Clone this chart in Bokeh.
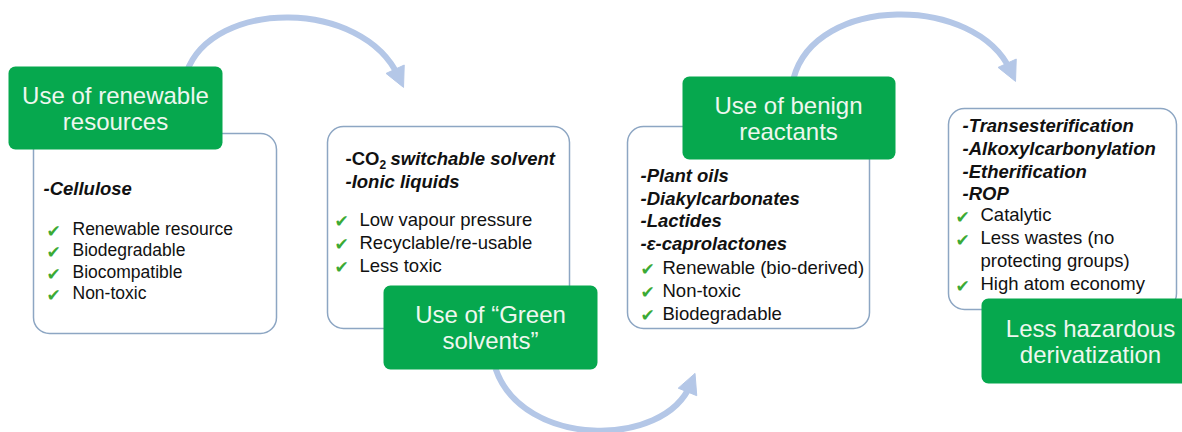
from bokeh.plotting import figure
from bokeh.models import Range1d, Arrow, NormalHead
from bokeh.core.properties import value
from bokeh.embed import file_html
from bokeh.resources import INLINE
import numpy as np

# ---- content ----
titles = ["Use of renewable\nresources", "Use of \u201cGreen\nsolvents\u201d",
          "Use of benign\nreactants", "Less hazardous\nderivatization"]
box1_heads = ["-Cellulose"]
box1_checks = ["Renewable resource", "Biodegradable", "Biocompatible", "Non-toxic"]
box2_heads = ["-Ionic liquids"]
box2_checks = ["Low vapour pressure", "Recyclable/re-usable", "Less toxic"]
box3_heads = ["-Plant oils", "-Diakylcarbonates", "-Lactides", "-\u03b5-caprolactones"]
box3_checks = ["Renewable (bio-derived)", "Non-toxic", "Biodegradable"]
box4_heads = ["-Transesterification", "-Alkoxylcarbonylation", "-Etherification", "-ROP"]
box4_checks = ["Catalytic", "Less wastes (no", "protecting groups)", "High atom economy"]
box4_has_check = [True, True, False, True]

GREEN = "#06A84E"
TITLE_TXT = "#EEF7EF"
OUTLINE = "#8DA6C3"
ARROW = "#B4C7E7"
CHECK = "#3BAA35"
FONT = value("Liberation Sans")

W, H = 1182, 432
p = figure(width=W, height=H, output_backend="svg", toolbar_location=None,
           x_range=Range1d(0, W), y_range=Range1d(H, 0), min_border=0)
p.axis.visible = False
p.grid.visible = False
p.outline_line_color = None
p.background_fill_color = "white"
p.border_fill_color = "white"

# ---- curved arrows ----
def curved_arrow(P0, C0, C1, P3, head_len=12):
    p.bezier(x0=[P0[0]], y0=[P0[1]], x1=[P3[0]], y1=[P3[1]],
             cx0=[C0[0]], cy0=[C0[1]], cx1=[C1[0]], cy1=[C1[1]],
             line_color=ARROW, line_width=6)
    d = np.array(P3, float) - np.array(C1, float)
    d /= np.linalg.norm(d)
    tip = np.array(P3, float) + head_len * d
    start = np.array(P3, float) - 2 * d
    p.add_layout(Arrow(end=NormalHead(size=20, fill_color=ARROW, line_color=ARROW, line_width=1),
                       x_start=start[0], y_start=start[1], x_end=tip[0], y_end=tip[1],
                       line_color=ARROW, line_width=6))

curved_arrow((186, 72), (212, -2), (362, -2), (398, 76))
curved_arrow((495, 368), (522, 448), (664, 448), (690, 384))
curved_arrow((793, 78), (815, -6), (975, -6), (1010, 70))

# ---- outline boxes ----
ob_l = [33, 327, 627, 948]
ob_r = [276, 569, 869, 1176]
ob_t = [133, 126, 126, 108]
ob_b = [333, 328, 328, 309]
p.quad(left=ob_l, right=ob_r, top=ob_t, bottom=ob_b, fill_color="white",
       line_color=OUTLINE, line_width=1.5, border_radius=16)

# ---- text helpers ----
def txt(x, y, s, size, style="normal", color="#111111", align="left", font=FONT):
    p.text(x=[x], y=[y], text=[s], text_font=font, text_font_size=f"{size}px",
           text_font_style=style, text_color=color, text_align=align,
           text_baseline="middle")

def check(x, y):
    p.text(x=[x], y=[y], text=["\u2714"], text_font=value("DejaVu Sans"),
           text_font_size="17px", text_color=CHECK, text_align="center",
           text_baseline="middle")

# box 1
for i, s in enumerate(box1_heads):
    txt(43, 188, s, 18.5, "bold italic")
for i, s in enumerate(box1_checks):
    y = 228 + 21.6 * i
    check(53, y + 2)
    txt(72, y, s, 17.5)

# box 2
txt(345, 158, "-CO", 18.5, "bold")
txt(379, 164, "2", 12, "bold")
txt(390, 158, "switchable solvent", 18.5, "bold italic")
for i, s in enumerate(box2_heads):
    txt(345, 181 + 23 * i, s, 18.5, "bold italic")
for i, s in enumerate(box2_checks):
    y = 219 + 23 * i
    check(341, y + 1)
    txt(359, y, s, 18.5)

# box 3
for i, s in enumerate(box3_heads):
    txt(640, 175 + 22.7 * i, s, 18.5, "bold italic")
for i, s in enumerate(box3_checks):
    y = 267 + 23 * i
    check(647, y + 1)
    txt(662, y, s, 18.5)

# box 4
for i, s in enumerate(box4_heads):
    txt(962, 125 + 22.8 * i, s, 18.5, "bold italic")
for i, s in enumerate(box4_checks):
    y = 214 + 23 * i
    if box4_has_check[i]:
        check(962, y + 2)
    txt(980, y, s, 18.5)

# ---- green title boxes ----
gb_l = [8, 383, 682, 981]
gb_r = [222, 597, 895, 1200]
gb_t = [66, 285, 76, 298]
gb_b = [149, 369, 159, 383]
p.quad(left=gb_l, right=gb_r, top=gb_t, bottom=gb_b, fill_color=GREEN,
       line_color=None, border_radius=7)
title_cx = [115, 490, 788, 1090]
for i, t in enumerate(titles):
    lines = t.split("\n")
    cy = (gb_t[i] + gb_b[i]) / 2
    for j, ln in enumerate(lines):
        txt(title_cx[i], cy + (j - (len(lines) - 1) / 2) * 26, ln, 24,
            color=TITLE_TXT, align="center")

open("out.html", "w").write(file_html(p, INLINE))
